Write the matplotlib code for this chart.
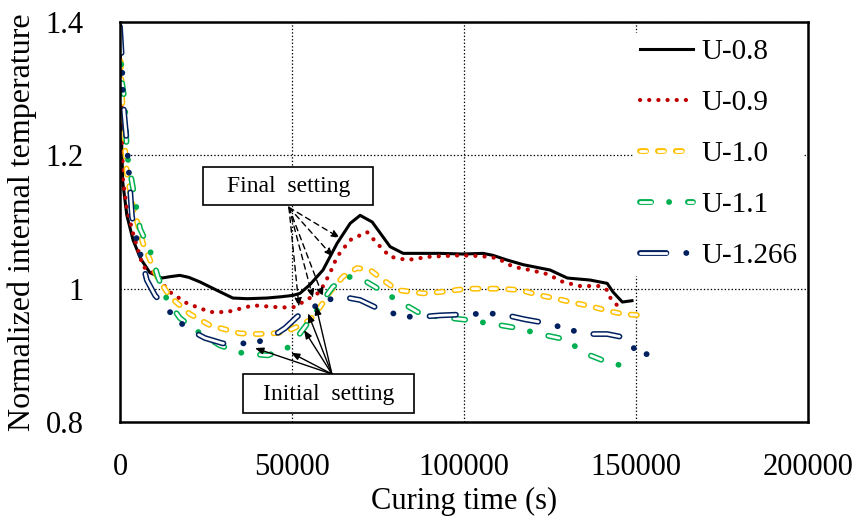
import matplotlib
matplotlib.use('Agg')
from matplotlib import pyplot as plt
from matplotlib.legend_handler import HandlerTuple
from matplotlib.patches import Rectangle

plt.rcParams['font.family'] = 'Liberation Serif'
plt.rcParams['lines.scale_dashes'] = False

# U-0.8
t08 = [0, 300, 800, 2000, 3800, 6000, 8700, 12200, 14500, 17400, 20000, 23300, 28000,
       32800, 37000, 42700, 47000, 50300, 52300, 55200, 59000, 63100, 66900, 69800,
       73300, 78500, 82300, 88000, 93000, 99700, 105500, 108400, 112500, 117200,
       125000, 130000, 136600, 141600, 143300, 146000, 148800]
v08 = [1.39, 1.25, 1.16, 1.11, 1.073, 1.045, 1.024, 1.016, 1.018, 1.020, 1.017, 1.010, 0.998,
       0.986, 0.985, 0.986, 0.988, 0.990, 0.993, 1.006, 1.028, 1.068, 1.098, 1.110,
       1.100, 1.063, 1.053, 1.053, 1.053, 1.052, 1.053, 1.050, 1.043, 1.036,
       1.028, 1.016, 1.013, 1.008, 0.995, 0.980, 0.982]
# U-0.9
t09 = [0, 500, 870, 2000, 3800, 6700, 9600, 14500, 19500, 26200, 31100, 38700, 46500,
       50300, 53200, 58100, 61000, 63100, 66900, 71800, 74700, 78500, 83400, 90100,
       98800, 104700, 109600, 114200, 119200, 124100, 128800, 133700, 139000, 141600,
       142400, 144500, 146200]
v09 = [1.37, 1.25, 1.163, 1.12, 1.083, 1.033, 1.024, 0.995, 0.978, 0.965, 0.965, 0.975, 0.972,
       0.972, 0.980, 0.995, 1.023, 1.048, 1.073, 1.085, 1.068, 1.048, 1.043, 1.048,
       1.050, 1.049, 1.046, 1.033, 1.028, 1.022, 1.010, 1.004, 1.004, 0.998,
       0.987, 0.975, 0.968]
# U-1.0
t10 = [0, 870, 2000, 3800, 6700, 10800, 14500, 20300, 26200, 34900, 39800, 44500, 48000,
       51500, 55200, 58100, 61000, 64800, 68900, 72700, 76500, 80500, 88100, 93000,
       100900, 110500, 116300, 122100, 127000, 131700, 136600, 141600, 146200, 151700]
v10 = [1.368, 1.253, 1.173, 1.123, 1.068, 1.018, 0.988, 0.962, 0.945, 0.933, 0.932, 0.933, 0.935,
       0.943, 0.953, 0.972, 0.995, 1.018, 1.031, 1.028, 1.013, 0.998, 0.993, 0.995,
       1.000, 1.000, 0.998, 0.990, 0.985, 0.979, 0.974, 0.967, 0.962, 0.960]
# U-1.1
t11 = [0, 580, 1450, 2000, 4400, 5800, 8700, 11000, 13700, 17400, 23300, 29000, 35800,
       43000, 49400, 53800, 56700, 59000, 61900, 66900, 69800, 74700, 80500, 87200,
       92400, 101200, 108400, 115400, 122100, 129400, 135200, 141600, 148800]
v11 = [1.38, 1.31, 1.278, 1.203, 1.133, 1.09, 1.058, 1.018, 0.983, 0.956, 0.933, 0.915, 0.903,
       0.900, 0.913, 0.943, 0.963, 0.983, 1.003, 1.018, 1.016, 1.001, 0.983, 0.963,
       0.958, 0.953, 0.947, 0.941, 0.932, 0.924, 0.903, 0.890, 0.881]
# U-1.266
t1266 = [0, 580, 870, 2000, 3500, 4900, 7800, 10200, 16600, 20300, 24700, 29900, 38700,
         43600, 48000, 51500, 53200, 56100, 60200, 64500, 69800, 74700, 82300, 88100,
         93000, 102600, 107600, 112500, 117700, 122100, 127000, 131700, 136600, 141600,
         147400, 149100, 150600, 153200]
v1266 = [1.393, 1.343, 1.283, 1.218, 1.108, 1.073, 1.013, 0.99, 0.953, 0.938, 0.926, 0.918, 0.918,
         0.926, 0.941, 0.958, 0.965, 0.972, 0.983, 0.988, 0.983, 0.971, 0.958, 0.958,
         0.960, 0.962, 0.963, 0.960, 0.954, 0.950, 0.944, 0.937, 0.932, 0.932,
         0.926, 0.913, 0.900, 0.902]

labels = ['U-0.8', 'U-0.9', 'U-1.0', 'U-1.1', 'U-1.266']

# annotation arrow targets
final_from = (49100, 1.122)
final_to = [(63950, 1.076), (61920, 1.048), (59010, 0.988), (56100, 0.986), (52030, 0.973)]
init_from = (61600, 0.872)
init_to = [(39240, 0.911), (49710, 0.904), (53490, 0.938), (54650, 0.963), (56980, 0.974)]

fig = plt.figure(figsize=(8.57, 5.23), dpi=100)
ax = fig.add_axes([0.14, 0.193, 0.803, 0.765])

handles = []
h, = ax.plot(t08, v08, color='black', lw=2.2, solid_joinstyle='round')
handles.append(h)
h, = ax.plot(t09, v09, color='#C00000', lw=3.0, dashes=[0.1, 6.5],
             dash_capstyle='round')
handles.append(h)


def hollow(x, y, c, outer, inner):
    # compound line: coloured outline with a white core
    o, = ax.plot(x, y, color=c, lw=4.2, dashes=outer, dash_capstyle='round',
                 dash_joinstyle='round')
    i, = ax.plot(x, y, color='white', lw=2.0, dashes=inner, dash_capstyle='round',
                 dash_joinstyle='round')
    return (o, i)


handles.append(hollow(t10, v10, '#FFC000', [4.4, 8.5], [4.4, 8.5]))
handles.append(hollow(t11, v11, '#00B050', [8, 12.9, 0.1, 13.5], [8, 26.5]))
handles.append(hollow(t1266, v1266, '#002060', [19, 14.3, 0.1, 12.1, 0.1, 14.2], [19, 40.8]))

ax.set_xlim(0, 200000)
ax.set_ylim(0.8, 1.4)
ax.set_xticks([0, 50000, 100000, 150000, 200000])
ax.set_yticks([0.8, 1.0, 1.2, 1.4])
ax.set_yticklabels(['0.8', '1', '1.2', '1.4'])
ax.tick_params(length=0, labelsize=22)
ax.tick_params(axis='x', pad=22)
ax.tick_params(axis='y', pad=26)
ax.grid(True, color='black', lw=0.9, linestyle=(0, (1, 1.5)))
for s in ax.spines.values():
    s.set_linewidth(1.8)
    s.set_zorder(10)

ax.set_xlabel('Curing time (s)', fontsize=22, labelpad=4)
ax.set_ylabel('Normalized internal temperature', fontsize=23, labelpad=6)

# annotations
for p in final_to:
    ax.annotate('', xy=p, xytext=final_from,
                arrowprops=dict(arrowstyle='-|>,head_length=0.5,head_width=0.2',
                                color='black', lw=1, linestyle=(0, (4, 3)),
                                shrinkA=0, shrinkB=0))
for p in init_to:
    ax.annotate('', xy=p, xytext=init_from,
                arrowprops=dict(arrowstyle='-|>,head_length=0.5,head_width=0.2',
                                color='black', lw=1, shrinkA=0, shrinkB=0))
ax.add_patch(Rectangle((24130, 1.1255), 49420, 0.057, fc='white', ec='black', lw=1.2,
                       zorder=6))
ax.add_patch(Rectangle((35760, 0.8135), 49600, 0.0585, fc='white', ec='black', lw=1.2,
                       zorder=6))
ax.text(48980, 1.153, 'Final  setting', fontsize=17, ha='center', va='center', zorder=7)
ax.text(60760, 0.842, 'Initial  setting', fontsize=17, ha='center', va='center', zorder=7)

leg = ax.legend(handles, labels, loc='upper right', bbox_to_anchor=(1.014, 1.009),
                fontsize=21, frameon=True, fancybox=False, framealpha=1,
                edgecolor='white', facecolor='white', handlelength=1.8,
                handletextpad=0.3, labelspacing=0.84, borderpad=0.2,
                handler_map={tuple: HandlerTuple(ndivide=1, pad=0)})
leg.set_zorder(8)

plt.savefig('out.png', dpi=100)
